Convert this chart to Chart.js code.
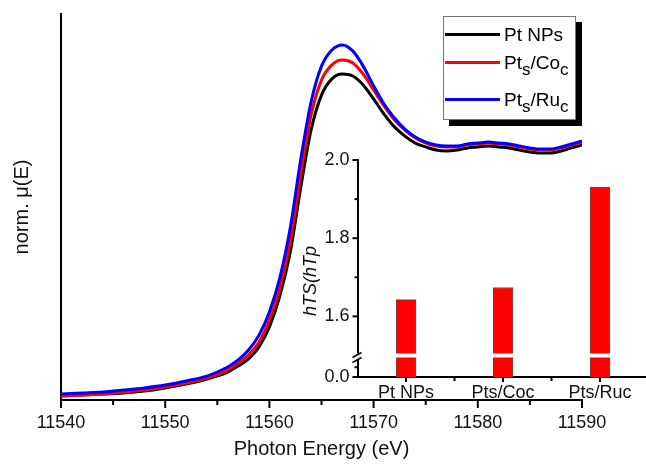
<!DOCTYPE html>
<html lang="en">
<head>
  <meta charset="UTF-8">
  <meta name="viewport" content="width=device-width, initial-scale=1.0">
  <script src="https://cdn.jsdelivr.net/npm/chart.js"></script>
  <title>XANES Pt L3 edge</title>
  <style>
    body { margin: 0; background: #fff; }
    #page { position: relative; width: 646px; height: 468px; overflow: hidden; font-family: "Liberation Sans", Arial, sans-serif; }
    #main { position: absolute; left: 0; top: 0; }
    #inset { position: absolute; left: 290px; top: 140px; }
    #legend {
      position: absolute; left: 443px; top: 16px; width: 133px; height: 104px;
      box-sizing: border-box; border: 1px solid #777; background: #fff;
      box-shadow: 6px 6px 0 #000;
    }
    #legend .ln { position: absolute; left: 1px; width: 55px; height: 3px; }
    #legend .tx { position: absolute; left: 60px; font-size: 19px; line-height: 19px; color: #000; white-space: nowrap; }
    #legend .sb { position: relative; top: 6px; font-size: 17px; }
  </style>
</head>

<body>
  <div id="page">
    <canvas id="main" width="646" height="468"></canvas>
    <canvas id="inset" width="360" height="270"></canvas>
    <div id="legend">
      <span class="ln" style="top:16px;background:#000"></span>
      <span class="tx" style="top:8px">Pt NPs</span>
      <span class="ln" style="top:44px;background:#f00"></span>
      <span class="tx" style="top:36px">Pt<span class="sb">s</span>/Co<span class="sb">c</span></span>
      <span class="ln" style="top:81px;background:#00f"></span>
      <span class="tx" style="top:73px">Pt<span class="sb">s</span>/Ru<span class="sb">c</span></span>
    </div>
  </div>

<script>
  // photon energy grid (eV) and normalised absorption of the three samples
  const energy = [11540, 11542, 11544, 11546, 11548, 11550, 11552, 11554, 11556, 11557, 11558, 11559, 11560,
    11561, 11562, 11563, 11564, 11565, 11566, 11567, 11568, 11569, 11570, 11571, 11572, 11573, 11574, 11575,
    11576, 11577, 11578, 11579, 11580, 11581, 11582, 11583, 11584, 11585, 11586, 11587, 11588, 11589, 11590];
  const muPtNPs = [0.017, 0.021, 0.025, 0.029, 0.037, 0.050, 0.066, 0.087, 0.116, 0.141, 0.170, 0.220, 0.303,
    0.431, 0.613, 0.879, 1.119, 1.264, 1.331, 1.351, 1.343, 1.306, 1.248, 1.185, 1.132, 1.094, 1.065, 1.049,
    1.036, 1.032, 1.036, 1.045, 1.049, 1.053, 1.049, 1.045, 1.036, 1.028, 1.024, 1.024, 1.032, 1.045, 1.057];
  const muPtCo = [0.017, 0.021, 0.025, 0.033, 0.041, 0.054, 0.070, 0.091, 0.124, 0.153, 0.187, 0.240, 0.332,
    0.464, 0.655, 0.933, 1.181, 1.326, 1.389, 1.409, 1.397, 1.351, 1.285, 1.219, 1.161, 1.119, 1.086, 1.065,
    1.053, 1.049, 1.049, 1.057, 1.061, 1.065, 1.061, 1.057, 1.049, 1.040, 1.036, 1.036, 1.045, 1.057, 1.069];
  const muPtRu = [0.025, 0.029, 0.033, 0.041, 0.050, 0.062, 0.079, 0.099, 0.137, 0.166, 0.207, 0.269, 0.365,
    0.506, 0.713, 0.995, 1.235, 1.384, 1.451, 1.472, 1.447, 1.384, 1.302, 1.227, 1.169, 1.123, 1.090, 1.069,
    1.057, 1.053, 1.053, 1.061, 1.065, 1.069, 1.065, 1.061, 1.053, 1.045, 1.040, 1.040, 1.049, 1.061, 1.074];

  const xMajor = [11540, 11550, 11560, 11570, 11580, 11590];
  const xMinor = [11545, 11555, 11565, 11575, 11585];

  // inset: white-line intensity ratio
  const samples = ['Pt NPs', 'Pts/Coc', 'Pts/Ruc'];
  const ratio = [1.643, 1.674, 1.930];
  const insetFloor = 1.445;   // bottom of the broken axis, labelled 0.0
  const insetBreak = 1.5;
  const insetMajor = [insetFloor, 1.6, 1.8, 2.0];
  const insetMinor = [1.47, 1.7, 1.9];

  const FONT = '"Liberation Sans", Arial, sans-serif';

  // short tick marks drawn outside the axis line
  const tickMarks = {
    id: 'tickMarks',
    afterDraw(chart, args, opts) {
      if (!opts.marks) return;
      const ctx = chart.ctx;
      ctx.save();
      ctx.strokeStyle = '#000';
      ctx.lineWidth = 2;
      opts.marks.forEach(m => {
        const s = chart.scales[m.scale];
        m.values.forEach(v => {
          const p = s.getPixelForValue(v);
          ctx.beginPath();
          if (s.isHorizontal()) { ctx.moveTo(p, s.top); ctx.lineTo(p, s.top + m.len); }
          else { ctx.moveTo(s.right, p); ctx.lineTo(s.right - m.len, p); }
          ctx.stroke();
        });
      });
      ctx.restore();
    }
  };
  Chart.register(tickMarks);

  new Chart(document.getElementById('main'), {
    type: 'line',
    data: {
      datasets: [
        { label: 'Pt NPs', data: energy.map((e, i) => ({ x: e, y: muPtNPs[i] })), borderColor: '#000', order: 2 },
        { label: 'Pts/Coc', data: energy.map((e, i) => ({ x: e, y: muPtCo[i] })), borderColor: '#f00', order: 1 },
        { label: 'Pts/Ruc', data: energy.map((e, i) => ({ x: e, y: muPtRu[i] })), borderColor: '#00f', order: 0 }
      ]
    },
    options: {
      responsive: false,
      animation: false,
      devicePixelRatio: 1,
      datasets: { line: { borderWidth: 3, pointRadius: 0, cubicInterpolationMode: 'monotone' } },
      layout: { padding: { top: 14, right: 64, left: 0, bottom: 0 } },
      plugins: {
        legend: { display: false },
        tooltip: { enabled: false },
        tickMarks: { marks: [
          { scale: 'x', values: xMajor, len: 8 },
          { scale: 'x', values: xMinor, len: 5 }
        ] }
      },
      scales: {
        x: {
          type: 'linear', min: 11540, max: 11590,
          afterBuildTicks: s => { s.ticks = xMajor.map(v => ({ value: v })); },
          afterFit: s => { s.height = 68; },
          grid: { display: true, drawOnChartArea: false, drawTicks: false },
          border: { display: true, color: '#000', width: 2 },
          ticks: { color: '#111', padding: 12, maxRotation: 0, font: { family: FONT, size: 18 }, callback: v => String(v) },
          title: { display: true, text: 'Photon Energy (eV)', color: '#111', font: { family: FONT, size: 20 }, padding: { bottom: 7 } }
        },
        y: {
          min: 0, max: 1.6,
          afterFit: s => { s.width = 61; },
          grid: { display: true, drawOnChartArea: false, drawTicks: false },
          border: { display: true, color: '#000', width: 2 },
          ticks: { display: false },
          title: { display: true, text: 'norm. μ(E)', color: '#111', font: { family: FONT, size: 20 }, padding: { top: 10 } }
        }
      }
    }
  });

  // axis break, gap through the bars and the rotated y title of the inset
  const insetDecor = {
    id: 'insetDecor',
    afterDatasetsDraw(chart) {
      const ctx = chart.ctx;
      const yb = chart.scales.y.getPixelForValue(insetBreak);
      ctx.save();
      ctx.fillStyle = '#fff';
      chart.getDatasetMeta(0).data.forEach(bar => {
        ctx.fillRect(bar.x - bar.width / 2 - 1, yb - 2, bar.width + 2, 4);
      });
      ctx.restore();
    },
    afterDraw(chart) {
      const ctx = chart.ctx;
      const ys = chart.scales.y;
      const yb = ys.getPixelForValue(insetBreak);
      const ax = ys.right;
      ctx.save();
      ctx.fillStyle = '#fff';
      ctx.fillRect(ax - 3, yb - 2, 6, 6);
      ctx.strokeStyle = '#000';
      ctx.lineWidth = 1.5;
      ctx.beginPath();
      ctx.moveTo(ax - 5, yb + 2); ctx.lineTo(ax + 4, yb - 3);
      ctx.moveTo(ax - 5, yb + 7); ctx.lineTo(ax + 4, yb + 2);
      ctx.stroke();
      ctx.translate(21, 141);
      ctx.rotate(-Math.PI / 2);
      ctx.fillStyle = '#111';
      ctx.font = 'italic 18px ' + FONT;
      ctx.textAlign = 'center';
      ctx.textBaseline = 'middle';
      ctx.fillText('hTS(hTp', 0, 0);
      ctx.restore();
    }
  };

  new Chart(document.getElementById('inset'), {
    type: 'bar',
    data: {
      labels: samples,
      datasets: [{
        data: ratio,
        backgroundColor: '#ff0000',
        borderColor: '#555',
        borderWidth: 1,
        barThickness: 20
      }]
    },
    plugins: [insetDecor],
    options: {
      responsive: false,
      animation: false,
      devicePixelRatio: 1,
      layout: { padding: { top: 20, right: 1.5, left: 0, bottom: 0 } },
      plugins: {
        legend: { display: false },
        tooltip: { enabled: false },
        tickMarks: { marks: [
          { scale: 'x', values: [0, 1, 2], len: 5 },
          { scale: 'x', values: [0.5, 1.5], len: 4 },
          { scale: 'y', values: insetMajor, len: 5 },
          { scale: 'y', values: insetMinor, len: 3 }
        ] }
      },
      scales: {
        x: {
          offset: true,
          afterFit: s => { s.height = 33; },
          grid: { display: true, drawOnChartArea: false, drawTicks: false, offset: false },
          border: { display: true, color: '#000', width: 2 },
          ticks: { color: '#111', padding: 5, maxRotation: 0, font: { family: FONT, size: 18 } }
        },
        y: {
          min: insetFloor, max: 2.0,
          afterFit: s => { s.width = 67.5; },
          afterBuildTicks: s => { s.ticks = insetMajor.map(v => ({ value: v })); },
          grid: { display: true, drawOnChartArea: false, drawTicks: false },
          border: { display: true, color: '#000', width: 2 },
          ticks: {
            color: '#111', padding: 8, font: { family: FONT, size: 18 },
            callback: v => (v === insetFloor ? '0.0' : v.toFixed(1))
          }
        }
      }
    }
  });
</script>
</body>
</html>
